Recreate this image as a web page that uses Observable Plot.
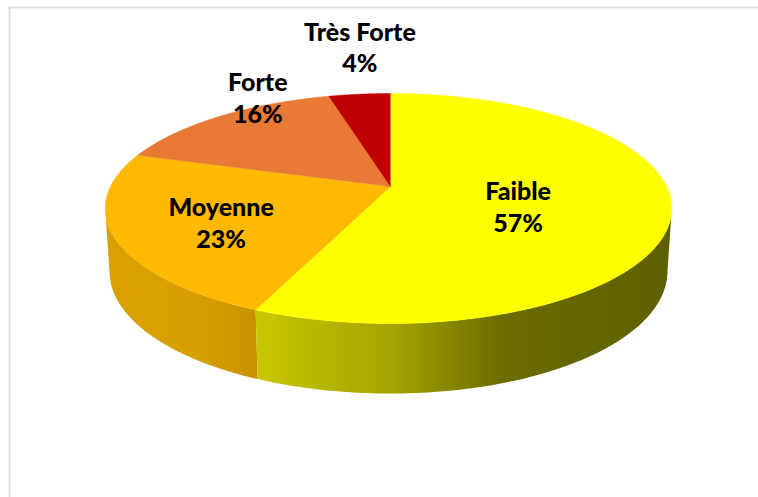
<!DOCTYPE html>
<html><head><meta charset="utf-8">
<script src="https://cdn.jsdelivr.net/npm/d3@7"></script>
<script src="https://cdn.jsdelivr.net/npm/@observablehq/plot@0.6"></script>
<style>html,body{margin:0;padding:0;background:#fff}svg{display:block}</style>
</head><body><div id="chart"></div>
<script>
const categories = ["Faible", "Moyenne", "Forte", "Très Forte"];
const percents = [56.5, 23.3, 16, 4.2];
const topColors = ["#ffff00", "#ffb900", "#e97a35", "#c00000"];
const labelAngle = [113, 241, 329, 355];
const labelReach = [0.484, 0.65, 1.084, 1.645];

// Perspective view of the disc
const cx = 390, cy = 186, b = 110.8, k = 0.1913, depth = 70;
const project = (t, r = 1) => {
  const u = r * Math.sin(t), v = -r * Math.cos(t), d = 1 - k * v;
  const a = u < 0 ? 280 : 276;
  return [cx + a * u / d, cy + b * v / d];
};
const total = d3.sum(percents);
let acc = 0;
const slices = categories.map((name, i) => {
  const start = acc / total * 2 * Math.PI;
  acc += percents[i];
  return {name, i, pct: Math.round(percents[i]), start, end: acc / total * 2 * Math.PI};
});
const arcAngles = (s, e) => d3.range(0, 121).map(j => s + (e - s) * j / 120);

const topPts = slices.flatMap(s => [
  {id: s.name, p: [cx, cy]},
  ...arcAngles(s.start, s.end).map(t => ({id: s.name, p: project(t)}))
]);
// The wall is shorter and slightly narrower at the far sides
const wallScale = t => 0.87 + 0.13 * (-Math.cos(t));
const wallPts = (name, s, e) => {
  const ts = arcAngles(s, e);
  return [
    ...ts.map(t => ({id: name, p: project(t)})),
    ...ts.slice().reverse().map(t => {
      const q = project(t);
      return {id: name, p: [cx + (q[0] - cx) * 0.985, q[1] + depth * wallScale(t)]};
    })
  ];
};
const rightT = 1.77, leftT = 2 * Math.PI - 1.77;
const wallYellow = wallPts("wy", rightT, slices[0].end);
const wallOrange = wallPts("wo", slices[1].start, leftT);

const grad = (id, stops) => () => {
  const ns = "http://www.w3.org/2000/svg";
  const g = document.createElementNS(ns, "linearGradient");
  g.setAttribute("id", id);
  stops.forEach(([o, c]) => {
    const st = document.createElementNS(ns, "stop");
    st.setAttribute("offset", o); st.setAttribute("stop-color", c);
    g.appendChild(st);
  });
  const defs = document.createElementNS(ns, "defs");
  defs.appendChild(g);
  return defs;
};

const labels = slices.map(s => ({...s, q: project(labelAngle[s.i] * Math.PI / 180, labelReach[s.i])}));

const chart = Plot.plot({
  width: 758, height: 497,
  margin: 0,
  x: {domain: [0, 758], range: [0, 758], axis: null},
  y: {domain: [0, 497], range: [0, 497], axis: null},
  marks: [
    grad("wallY", [[0, "#c8c800"], [0.33, "#a3a300"], [0.6, "#6b6b00"], [1, "#5f5f00"]]),
    grad("wallO", [[0, "#d9a000"], [0.6, "#d79f00"], [1, "#c89200"]]),
    Plot.ruleX([9], {y1: 6, y2: 497, stroke: "#e0e0e0", strokeWidth: 2}),
    Plot.ruleY([7], {x1: 8, x2: 758, stroke: "#e0e0e0", strokeWidth: 2}),
    Plot.line(wallOrange, {x: d => d.p[0], y: d => d.p[1], fill: "url(#wallO)", stroke: "none"}),
    Plot.line(wallYellow, {x: d => d.p[0], y: d => d.p[1], fill: "url(#wallY)", stroke: "none"}),
    ...slices.map(s => Plot.line(topPts.filter(d => d.id === s.name), {
      x: d => d.p[0], y: d => d.p[1], fill: topColors[s.i], stroke: topColors[s.i], strokeWidth: 0.5
    })),
    Plot.text(labels, {
      x: d => d.q[0], y: d => d.q[1], dy: -2,
      text: d => `${d.name}\n${d.pct}%`,
      lineHeight: 1.28, fontSize: 25, fontWeight: 900, fontFamily: "Lato, 'Open Sans', sans-serif", fill: "#000"
    })
  ]
});
document.getElementById("chart").appendChild(chart);
</script></body></html>
